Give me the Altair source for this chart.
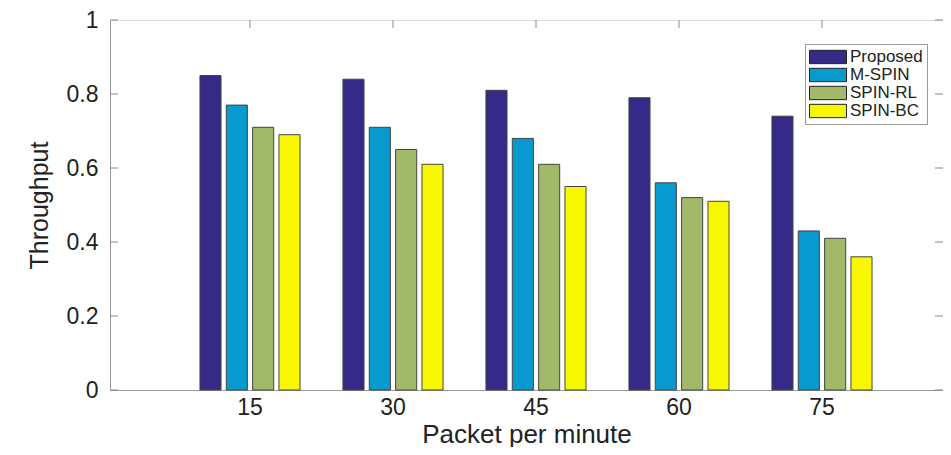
import altair as alt
import pandas as pd

categories = [15, 30, 45, 60, 75]
methods = ["Proposed", "M-SPIN", "SPIN-RL", "SPIN-BC"]
proposed = [0.85, 0.84, 0.81, 0.79, 0.74]
m_spin = [0.77, 0.71, 0.68, 0.56, 0.43]
spin_rl = [0.71, 0.65, 0.61, 0.52, 0.41]
spin_bc = [0.69, 0.61, 0.55, 0.51, 0.36]
colors = ["#352A87", "#0899CF", "#A3B96A", "#F7F700"]
y_ticks = [0, 0.2, 0.4, 0.6, 0.8, 1]

series = [proposed, m_spin, spin_rl, spin_bc]
rows = []
for m, vals in zip(methods, series):
    for c, v in zip(categories, vals):
        rows.append({"ppm": c, "method": m, "value": v})
df = pd.DataFrame(rows)
tick_df = pd.DataFrame({"t": y_ticks})
cat_df = pd.DataFrame({"ppm": categories})

W, H = 833, 370
FONT = "Liberation Sans"

xscale = alt.Scale(paddingInner=0.3, paddingOuter=0.5627, align=0.559)
yscale = alt.Scale(domain=[0, 1], nice=False)

bars = alt.Chart(df).mark_bar(stroke="#444444", strokeWidth=1).encode(
    x=alt.X("ppm:O", scale=xscale, sort=categories,
            axis=alt.Axis(title="Packet per minute", labelAngle=0, ticks=False,
                          labelFont=FONT, labelFontSize=23, labelColor="#222222",
                          titleFont=FONT, titleColor="#222222",
                          labelPadding=6, titlePadding=2, titleFontSize=26,
                          titleFontWeight="normal", domainColor="#999999")),
    xOffset=alt.XOffset("method:N", sort=methods,
                        scale=alt.Scale(paddingInner=0.2, paddingOuter=0)),
    y=alt.Y("value:Q", scale=yscale,
            axis=alt.Axis(title="Throughput", values=y_ticks, ticks=False, grid=False,
                          labelFont=FONT, labelFontSize=23, labelColor="#222222",
                          titleFont=FONT, titleColor="#222222",
                          labelPadding=12, titlePadding=14, titleFontSize=25,
                          titleFontWeight="normal", format="~g", domainColor="#999999")),
    color=alt.Color("method:N", sort=methods,
                    scale=alt.Scale(domain=methods, range=colors),
                    legend=alt.Legend(title=None, orient="none", legendX=695, legendY=24,
                                      symbolType="M-1,-0.36H1V0.36H-1Z", symbolSize=1369,
                                      symbolStrokeColor="#222222", symbolStrokeWidth=1,
                                      symbolOpacity=1,
                                      labelFont=FONT, labelFontSize=17, labelColor="#222222",
                                      labelOffset=3, clipHeight=18, rowPadding=0,
                                      padding=4, strokeColor="#999999", fillColor="white")),
)

left_ticks = alt.Chart(tick_df).mark_rule(color="#888888").encode(
    y=alt.Y("t:Q", scale=yscale), x=alt.value(0), x2=alt.value(8))
right_ticks = alt.Chart(tick_df).mark_rule(color="#888888").encode(
    y=alt.Y("t:Q", scale=yscale), x=alt.value(W), x2=alt.value(W - 8))
top_ticks = alt.Chart(cat_df).mark_rule(color="#888888").encode(
    x=alt.X("ppm:O", scale=xscale, sort=categories), y=alt.value(0), y2=alt.value(8))

chart = alt.layer(bars, left_ticks, right_ticks, top_ticks).properties(
    width=W, height=H,
    autosize=alt.AutoSizeParams(type="none"),
    padding={"left": 102, "top": 12, "right": 0, "bottom": 57},
).configure_view(stroke="#999999", strokeWidth=1).configure(background="white")

chart.save("out.html", embed_options={"renderer": "svg", "actions": False})
